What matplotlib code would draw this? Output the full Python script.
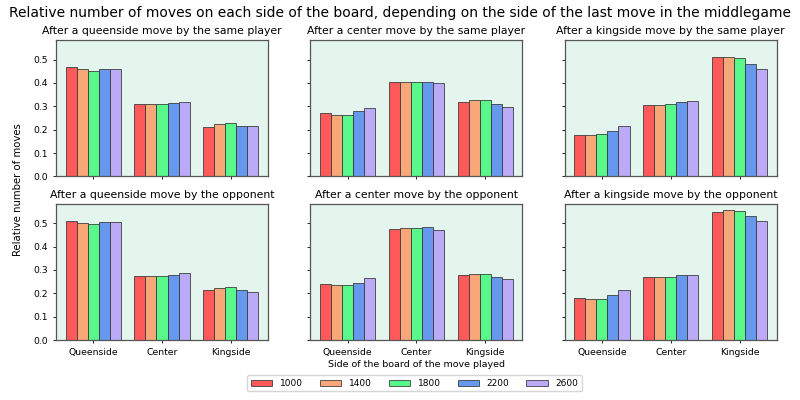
import matplotlib
matplotlib.use("Agg")
import matplotlib.pyplot as plt
import numpy as np

sides = ["Queenside", "Center", "Kingside"]
ratings = ["1000", "1400", "1800", "2200", "2600"]
colors = ["#ff5a5a", "#f8a878", "#58f98a", "#6699ee", "#bbaaf8"]

titles = [
    "After a queenside move by the same player",
    "After a center move by the same player",
    "After a kingside move by the same player",
    "After a queenside move by the opponent",
    "After a center move by the opponent",
    "After a kingside move by the opponent",
]

# values[panel][rating] -> [queenside, center, kingside]
same_queenside = [
    [0.470, 0.308, 0.213],
    [0.460, 0.308, 0.223],
    [0.453, 0.311, 0.229],
    [0.461, 0.315, 0.215],
    [0.461, 0.319, 0.215],
]
same_center = [
    [0.271, 0.404, 0.318],
    [0.261, 0.404, 0.327],
    [0.262, 0.404, 0.328],
    [0.279, 0.405, 0.311],
    [0.294, 0.400, 0.298],
]
same_kingside = [
    [0.178, 0.305, 0.509],
    [0.176, 0.305, 0.511],
    [0.180, 0.308, 0.506],
    [0.195, 0.317, 0.483],
    [0.215, 0.321, 0.458],
]
opp_queenside = [
    [0.510, 0.275, 0.212],
    [0.503, 0.275, 0.221],
    [0.497, 0.275, 0.225],
    [0.507, 0.278, 0.212],
    [0.504, 0.287, 0.206],
]
opp_center = [
    [0.241, 0.477, 0.279],
    [0.234, 0.481, 0.284],
    [0.235, 0.480, 0.284],
    [0.246, 0.484, 0.268],
    [0.264, 0.473, 0.261],
]
opp_kingside = [
    [0.181, 0.271, 0.549],
    [0.176, 0.268, 0.556],
    [0.176, 0.269, 0.552],
    [0.191, 0.277, 0.532],
    [0.212, 0.278, 0.509],
]
panels = [same_queenside, same_center, same_kingside,
          opp_queenside, opp_center, opp_kingside]

fig, axes = plt.subplots(2, 3, figsize=(8, 4), dpi=100, sharex=True, sharey=True)
fig.subplots_adjust(left=0.07, right=0.971, top=0.9, bottom=0.15,
                    wspace=0.2, hspace=0.2)

x = np.arange(len(sides))
width = 0.16
for ax, title, data in zip(axes.flat, titles, panels):
    ax.set_facecolor("#e4f5ee")
    for i, (r, c) in enumerate(zip(ratings, colors)):
        ax.bar(x + (i - 2) * width, data[i], width, color=c,
               edgecolor=(0.2, 0.2, 0.2, 0.8), linewidth=0.7, label=r)
    ax.set_title(title, fontsize=7.8, pad=4)
    ax.tick_params(labelsize=6.7, length=2.5, width=0.6)
    for s in ax.spines.values():
        s.set_color("#555555")
        s.set_linewidth(0.9)

axes[1, 0].set_xticks(x)
axes[1, 0].set_xticklabels(sides)
axes[1, 1].set_xlabel("Side of the board of the move played", fontsize=6.8, labelpad=2)
fig.text(0.023, 0.525, "Relative number of moves", rotation=90,
         ha="center", va="center", fontsize=7.3)
fig.suptitle("Relative number of moves on each side of the board, depending on the side "
             "of the last move in the middlegame", fontsize=10, y=0.985)

handles, labels = axes[0, 0].get_legend_handles_labels()
fig.legend(handles, labels, loc="lower center", ncol=5, fontsize=6.5,
           bbox_to_anchor=(0.518, 0.01), handlelength=2.4, columnspacing=1.9,
           framealpha=0.8)

fig.savefig("out.png", dpi=100)
